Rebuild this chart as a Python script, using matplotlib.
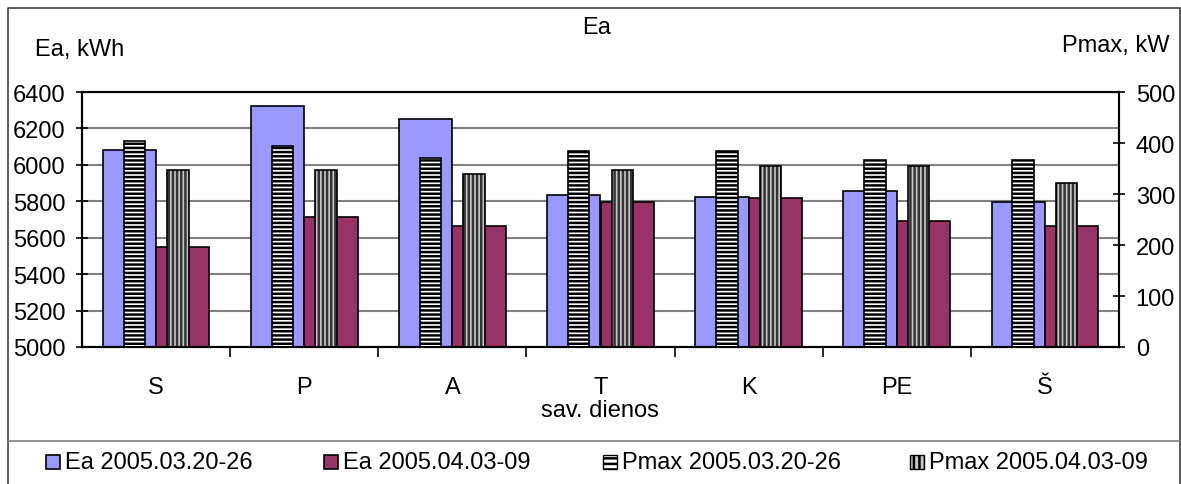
import matplotlib.pyplot as plt
import numpy as np
from matplotlib.lines import Line2D
from matplotlib.patches import Rectangle

plt.rcParams["font.family"] = ["Liberation Sans", "DejaVu Sans"]
plt.rcParams["font.size"] = 17
plt.rcParams["hatch.linewidth"] = 1.8

days = ["S", "P", "A", "T", "K", "PE", "Š"]
ea_week1 = [6080, 6325, 6250, 5835, 5825, 5858, 5796]
ea_week2 = [5548, 5715, 5663, 5796, 5818, 5693, 5663]
pmax_week1 = [403, 395, 370, 385, 385, 366, 366]
pmax_week2 = [348, 348, 340, 348, 355, 355, 322]
labels = ["Ea 2005.03.20-26", "Ea 2005.04.03-09",
          "Pmax 2005.03.20-26", "Pmax 2005.04.03-09"]

BLUE = "#9999ff"
MAROON = "#993366"
W, H = 1181, 485

fig = plt.figure(figsize=(W / 100, H / 100), dpi=100)
ax = fig.add_axes([82 / W, 1 - 348 / H, (1119 - 82) / W, (348 - 93) / H])
ax2 = ax.twinx()

x = np.arange(len(days))
ax.bar(x - 0.18, ea_week1, 0.36, color=BLUE, edgecolor="black", lw=1.2)
ax.bar(x + 0.18, ea_week2, 0.36, color=MAROON, edgecolor="black", lw=1.2)

ax2.bar(x - 0.147, pmax_week1, 0.145, color="white", edgecolor="black",
        hatch="----", lw=1.2)
# vertical-striped series: gray hatch first, black outline on top
ax2.bar(x + 0.147, pmax_week2, 0.145, color="#c8c8c8", edgecolor="#333333",
        hatch="||||", lw=0)
ax2.bar(x + 0.147, pmax_week2, 0.145, fill=False, edgecolor="black", lw=1.2)

ax.set_xlim(-0.5, 6.5)
ax.set_ylim(5000, 6400)
ax.set_yticks(range(5000, 6401, 200))
ax2.set_ylim(0, 500)
ax2.set_yticks(range(0, 501, 100))

ax.yaxis.grid(True, color="#808080", lw=1.5)
ax.set_axisbelow(True)
ax.set_xticks(x, days)
ax.set_xticks(x[:-1] + 0.5, minor=True)
ax.tick_params(axis="x", which="major", length=0, pad=21)
ax.tick_params(axis="x", which="minor", length=7, width=1.2, direction="out")
for a in (ax, ax2):
    a.tick_params(axis="y", direction="inout", length=8, width=1.2, pad=8)
    for s in a.spines.values():
        s.set_linewidth(1.5)
        s.set_color("black")

fig.text(597 / W, 1 - 28 / H, "Ea", ha="center", va="center")
fig.text(35 / W, 1 - 50 / H, "Ea, kWh", ha="left", va="center")
fig.text(1170 / W, 1 - 46 / H, "Pmax, kW", ha="right", va="center")
fig.text(600 / W, 1 - 411 / H, "sav. dienos", ha="center", va="center")

# chart frame and legend separator
fig.add_artist(Line2D([8 / W, 8 / W, 1180 / W, 1180 / W], [0, 1 - 9 / H, 1 - 9 / H, 0],
                      color="#404040", lw=1.2, transform=fig.transFigure))
fig.add_artist(Line2D([8 / W, 1180 / W], [1 - 442 / H] * 2,
                      color="#808080", lw=1.2, transform=fig.transFigure))

# legend, laid out by hand
styles = [
    dict(facecolor=BLUE, edgecolor="black", lw=1.2),
    dict(facecolor=MAROON, edgecolor="black", lw=1.2),
    dict(facecolor="white", edgecolor="black", hatch="---", lw=1.0),
    dict(facecolor="#c8c8c8", edgecolor="black", hatch="|||", lw=1.0),
]
marker_left = [46, 324, 603, 910]
for left, label, style in zip(marker_left, labels, styles):
    fig.add_artist(Rectangle((left / W, 1 - 470 / H), 14 / W, 14 / H,
                             transform=fig.transFigure, **style))
    fig.text((left + 19) / W, 1 - 463 / H, label, ha="left", va="center")

fig.savefig("out.png", dpi=100)
